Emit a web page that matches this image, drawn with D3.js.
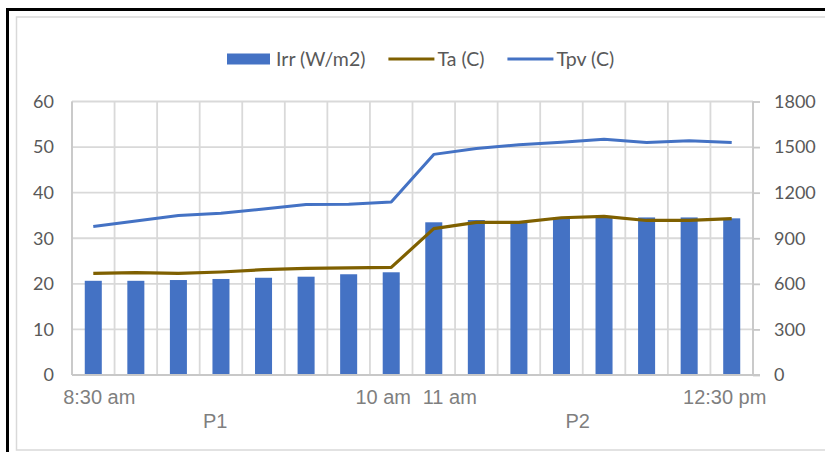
<!DOCTYPE html>
<html>
<head>
<meta charset="utf-8">
<script src="https://cdn.jsdelivr.net/npm/d3@7"></script>
<style>
  body { margin: 0; background: #fff; }
  svg { display: block; }
  .tick text { font-family: Lato, "Open Sans", sans-serif; font-size: 18px; fill: #595959; }
  .legend text { font-family: Lato, "Open Sans", sans-serif; font-size: 19.5px; fill: #595959; }
  .cat { font-family: "Liberation Sans", Arial, sans-serif; font-size: 20px; fill: #7f7f7f; }
</style>
</head>
<body>
<svg width="825" height="452"></svg>
<script>
// category labels (blank ones are unlabeled slots)
var times = ["8:30 am", "", "", "", "", "", "", "10 am",
             "11 am", "", "", "", "", "", "", "12:30 pm"];
var periods = ["P1", "P2"];
var periodOf = [0,0,0,0,0,0,0,0, 1,1,1,1,1,1,1,1];

// series
var irr = [620, 620, 625, 632, 640, 647, 663, 676,
           1005, 1020, 1009, 1035, 1042, 1037, 1037, 1031];
var ta  = [22.3, 22.45, 22.3, 22.6, 23.1, 23.4, 23.5, 23.6,
           32.1, 33.5, 33.5, 34.5, 34.8, 33.9, 33.9, 34.3];
var tpv = [32.6, 33.8, 35.0, 35.5, 36.4, 37.4, 37.45, 37.95,
           48.4, 49.7, 50.5, 51.05, 51.7, 51.0, 51.4, 51.0];

var leftTicks = [0, 10, 20, 30, 40, 50, 60];
var rightTicks = [0, 300, 600, 900, 1200, 1500, 1800];

var svg = d3.select("svg");

var plot = {left: 72, right: 753, top: 101.5, bottom: 375};

// frame: black outer border and light inner chart border
svg.append("rect")
  .attr("x", 7.5).attr("y", 9.5)
  .attr("width", 900).attr("height", 500)
  .attr("fill", "#fff")
  .attr("stroke", "#000").attr("stroke-width", 3);

svg.append("rect")
  .attr("x", 16.5).attr("y", 17)
  .attr("width", 900).attr("height", 433)
  .attr("fill", "#fff")
  .attr("stroke", "#d9d9d9").attr("stroke-width", 1.5);

var idx = d3.range(times.length);
var x = d3.scaleBand().domain(idx).range([plot.left, plot.right]);
var yL = d3.scaleLinear().domain([0, 60]).range([plot.bottom, plot.top]);
var yR = d3.scaleLinear().domain([0, 1800]).range([plot.bottom, plot.top]);

// horizontal gridlines
svg.append("g")
  .selectAll("line")
  .data(leftTicks.slice(1))
  .enter()
  .append("line")
  .attr("x1", plot.left).attr("x2", plot.right)
  .attr("y1", function(d){ return yL(d); })
  .attr("y2", function(d){ return yL(d); })
  .attr("stroke", "#d9d9d9").attr("stroke-width", 1.8);

// vertical gridlines at category boundaries
svg.append("g")
  .selectAll("line")
  .data(d3.range(times.length + 1))
  .enter()
  .append("line")
  .attr("x1", function(i){ return plot.left + i * x.bandwidth(); })
  .attr("x2", function(i){ return plot.left + i * x.bandwidth(); })
  .attr("y1", plot.top).attr("y2", plot.bottom)
  .attr("stroke", "#d9d9d9").attr("stroke-width", 1.8);

// axis lines
svg.append("line")
  .attr("x1", plot.left).attr("x2", plot.left)
  .attr("y1", plot.top).attr("y2", plot.bottom)
  .attr("stroke", "#c8c8c8").attr("stroke-width", 1.8);
svg.append("line")
  .attr("x1", plot.right).attr("x2", plot.right)
  .attr("y1", plot.top).attr("y2", plot.bottom)
  .attr("stroke", "#c8c8c8").attr("stroke-width", 1.8);

// left axis
var leftAxis = d3.axisLeft(yL).tickValues(leftTicks).tickSize(0).tickPadding(18);
svg.append("g")
  .attr("transform", "translate(" + plot.left + ",0)")
  .call(leftAxis)
  .call(function(g){ g.select(".domain").remove(); });

// right axis
var rightAxis = d3.axisRight(yR).tickValues(rightTicks).tickSize(7).tickPadding(14)
  .tickFormat(d3.format("d"));
svg.append("g")
  .attr("transform", "translate(" + plot.right + ",0)")
  .call(rightAxis)
  .call(function(g){
    g.select(".domain").remove();
    g.selectAll(".tick line").attr("stroke", "#c8c8c8").attr("stroke-width", 1.8);
  });

// bars (irradiance on right axis)
var barW = x.bandwidth() * 0.4;
svg.append("g")
  .selectAll("rect")
  .data(irr)
  .enter()
  .append("rect")
  .attr("x", function(d, i){ return x(i) + (x.bandwidth() - barW) / 2; })
  .attr("y", function(d){ return yR(d); })
  .attr("width", barW)
  .attr("height", function(d){ return yR(0) - yR(d); })
  .attr("fill", "#4472c4");

// bottom axis line
svg.append("line")
  .attr("x1", plot.left).attr("x2", plot.right + 7)
  .attr("y1", plot.bottom).attr("y2", plot.bottom)
  .attr("stroke", "#c8c8c8").attr("stroke-width", 1.8);

// lines (temperatures on left axis)
var line = d3.line()
  .x(function(d, i){ return x(i) + x.bandwidth() / 2; })
  .y(function(d){ return yL(d); });

svg.append("path")
  .datum(ta)
  .attr("d", line)
  .attr("fill", "none")
  .attr("stroke", "#7f6000")
  .attr("stroke-width", 3.2)
  .attr("stroke-linejoin", "round");

svg.append("path")
  .datum(tpv)
  .attr("d", line)
  .attr("fill", "none")
  .attr("stroke", "#4472c4")
  .attr("stroke-width", 3)
  .attr("stroke-linejoin", "round");

// category labels - nudged the way the original spreads them
var catShift = {0: 6, 7: -8, 8: 16, 15: -7};
svg.append("g")
  .selectAll("text")
  .data(times)
  .enter()
  .append("text")
  .attr("class", "cat")
  .attr("x", function(d, i){ return x(i) + x.bandwidth() / 2 + (catShift[i] || 0); })
  .attr("y", 404)
  .attr("text-anchor", "middle")
  .text(function(d){ return d; });

var periodShift = [-27, -5];
svg.append("g")
  .selectAll("text")
  .data(periods)
  .enter()
  .append("text")
  .attr("class", "cat")
  .attr("x", function(d, p){
    var members = idx.filter(function(i){ return periodOf[i] == p; });
    var a = x(members[0]), b = x(members[members.length - 1]) + x.bandwidth();
    return (a + b) / 2 + periodShift[p];
  })
  .attr("y", 428)
  .attr("text-anchor", "middle")
  .text(function(d){ return d; });

// legend
var legend = svg.append("g").attr("class", "legend");
var legendItems = [
  {name: "Irr (W/m2)", type: "bar", color: "#4472c4"},
  {name: "Ta (C)", type: "line", color: "#7f6000"},
  {name: "Tpv (C)", type: "line", color: "#4472c4"}
];
var lx = 227, ly = 59;
legendItems.forEach(function(item){
  if (item.type == "bar") {
    legend.append("rect")
      .attr("x", lx).attr("y", ly - 5.5)
      .attr("width", 43).attr("height", 11)
      .attr("fill", item.color);
  } else {
    legend.append("line")
      .attr("x1", lx).attr("x2", lx + 46)
      .attr("y1", ly).attr("y2", ly)
      .attr("stroke", item.color)
      .attr("stroke-width", item.color == "#7f6000" ? 3.2 : 3);
  }
  var t = legend.append("text")
    .attr("x", lx + 49)
    .attr("y", ly)
    .attr("dy", "0.35em")
    .text(item.name);
  lx = lx + 49 + t.node().getComputedTextLength() + 23;
});
</script>
</body>
</html>
